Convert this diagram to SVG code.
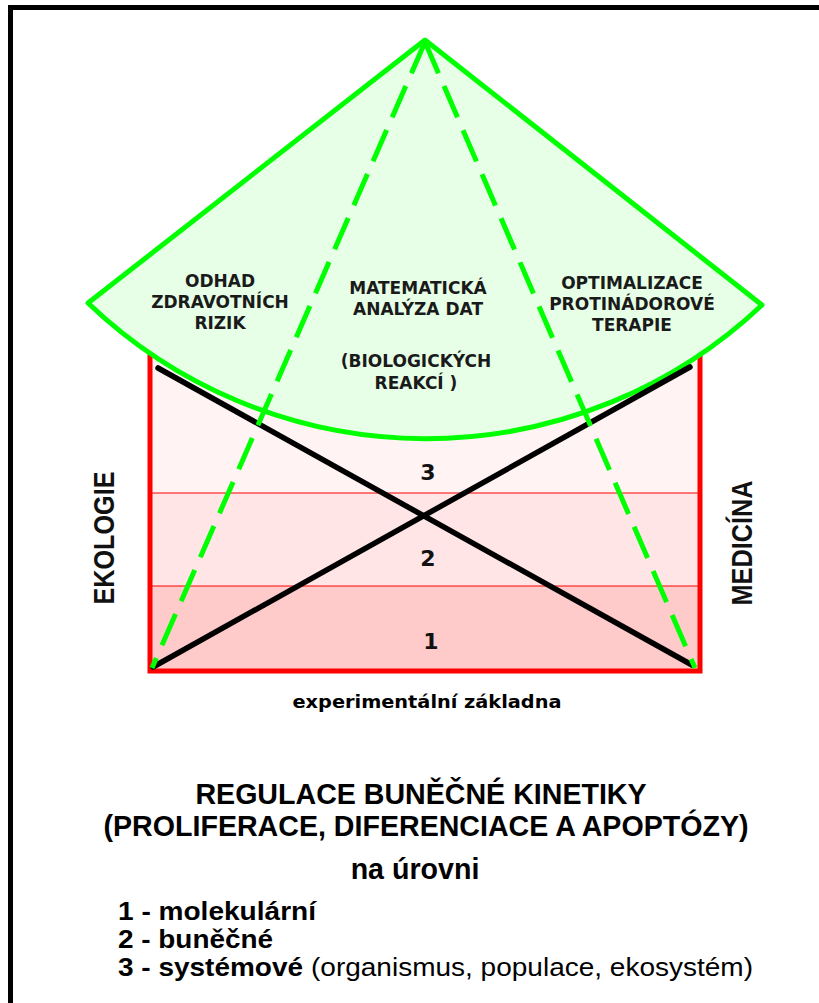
<svg xmlns="http://www.w3.org/2000/svg" width="819" height="1003" viewBox="0 0 819 1003">
<style>
.fan{font-family:"DejaVu Sans",Verdana,sans-serif;font-weight:bold;font-size:17px;fill:#1a1a1a;text-anchor:middle}
.num{font-family:"DejaVu Sans",sans-serif;font-weight:bold;font-size:22px;fill:#111;text-anchor:middle}
.side{font-family:"Liberation Sans",Arial,sans-serif;font-weight:bold;font-size:30px;fill:#111;text-anchor:middle}
.big{font-family:"Liberation Sans",Arial,sans-serif;font-weight:bold;font-size:28.6px;fill:#000;text-anchor:middle}
.lst{font-family:"Liberation Sans",Arial,sans-serif;font-weight:bold;font-size:25px;fill:#000}
.nrm{font-family:"Liberation Sans",Arial,sans-serif;font-size:25px;fill:#000}
.sm{font-family:"DejaVu Sans",sans-serif;font-weight:bold;font-size:17px;fill:#000;text-anchor:middle}
.blk{stroke:#000;stroke-width:5.5;stroke-linecap:round;fill:none}
.dash{stroke:#00ff00;stroke-width:5;fill:none;stroke-dasharray:34 14}
</style>
<rect x="0" y="0" width="819" height="1003" fill="#fff"/>
<g id="frame">
<path d="M10.5 1010 V7.5 H830" fill="none" stroke="#000" stroke-width="5"/>
</g>
<g id="levels">
<rect x="150" y="350" width="550" height="143" fill="#fff3f3"/>
<rect x="150" y="493" width="550" height="93" fill="#ffe5e5"/>
<rect x="150" y="586" width="550" height="85" fill="#ffcaca"/>
<line x1="150" y1="493" x2="700" y2="493" stroke="#ff0000" stroke-width="1"/>
<line x1="150" y1="586" x2="700" y2="586" stroke="#ff0000" stroke-width="1"/>
<path d="M150 348 V671 H700 V348" fill="none" stroke="#ff0000" stroke-width="5"/>
<text class="num" x="428" y="480">3</text>
<text class="num" x="428" y="566">2</text>
<text class="num" x="431" y="649">1</text>
</g>
<g id="fan">
<path d="M425 40 L762 305 A489 489 0 0 1 88 303 Z" fill="#e6ffe6" stroke="#00ff00" stroke-width="5" stroke-linejoin="round"/>
<text class="fan" x="220" y="287">ODHAD</text>
<text class="fan" x="220" y="308">ZDRAVOTNÍCH</text>
<text class="fan" x="220" y="329">RIZIK</text>
<text class="fan" x="418" y="294">MATEMATICKÁ</text>
<text class="fan" x="418" y="315">ANALÝZA DAT</text>
<text class="fan" x="416" y="367">(BIOLOGICKÝCH</text>
<text class="fan" x="416" y="389">REAKCÍ )</text>
<text class="fan" x="632" y="289">OPTIMALIZACE</text>
<text class="fan" x="632" y="310">PROTINÁDOROVÉ</text>
<text class="fan" x="632" y="331">TERAPIE</text>
</g>
<g id="connectors">
<line class="blk" x1="153" y1="667" x2="690" y2="367"/>
<line class="blk" x1="158" y1="368" x2="692" y2="665"/>
<line class="dash" x1="425" y1="42" x2="152" y2="668"/>
<line class="dash" x1="425" y1="42" x2="695" y2="668"/>
</g>
<g id="ekologie">
<text class="side" transform="translate(114,538) rotate(-90)" textLength="133" lengthAdjust="spacingAndGlyphs">EKOLOGIE</text>
</g>
<g id="medicina">
<text class="side" transform="translate(752,543) rotate(-90)" textLength="125" lengthAdjust="spacingAndGlyphs">MEDICÍNA</text>
</g>
<g id="caption">
<text class="sm" x="427" y="708" textLength="269" lengthAdjust="spacingAndGlyphs">experimentální základna</text>
<text class="big" x="421" y="804">REGULACE BUNĚČNÉ KINETIKY</text>
<text class="big" x="426" y="836">(PROLIFERACE, DIFERENCIACE A APOPTÓZY)</text>
<text class="big" x="415" y="879">na úrovni</text>
<text class="lst" x="118" y="920" textLength="198" lengthAdjust="spacingAndGlyphs">1 - molekulární</text>
<text class="lst" x="118" y="948" textLength="155" lengthAdjust="spacingAndGlyphs">2 - buněčné</text>
<text class="lst" x="118" y="976" textLength="185" lengthAdjust="spacingAndGlyphs">3 - systémové</text>
<text class="nrm" x="311" y="976" textLength="442" lengthAdjust="spacingAndGlyphs">(organismus, populace, ekosystém)</text>
</g>
</svg>
